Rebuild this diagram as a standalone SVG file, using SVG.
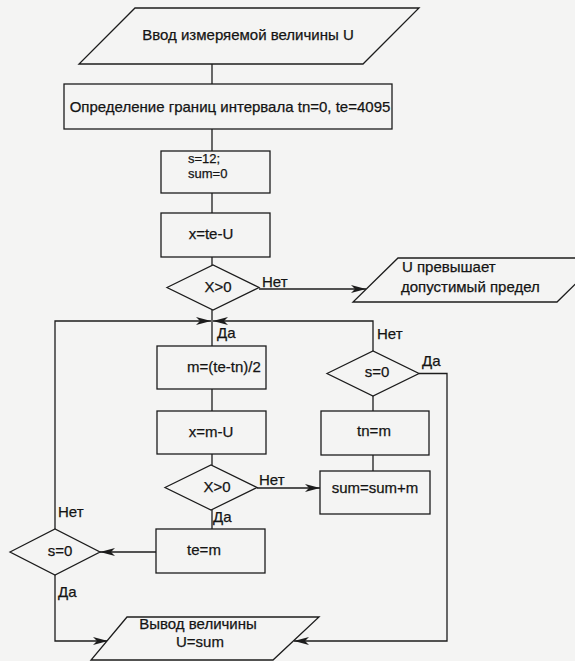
<svg xmlns="http://www.w3.org/2000/svg" width="575" height="661" viewBox="0 0 575 661">
<defs>
<style>
.s{fill:none;stroke:#1c1c1c;stroke-width:1.3}
.b{fill:#f4f4f3;stroke:#1c1c1c;stroke-width:1.3}
text{font-family:"Liberation Sans",Arial,sans-serif;font-size:15px;fill:#141414;stroke:#141414;stroke-width:0.25}
.c{text-anchor:middle}
.sm{font-size:13px}
</style>
<marker id="ah" markerUnits="userSpaceOnUse" markerWidth="15" markerHeight="8" refX="15" refY="4" orient="auto">
<path d="M0,0 L15,4 L0,8 L4,4 z" fill="#1c1c1c"/>
</marker>
</defs>
<rect x="0" y="0" width="575" height="661" fill="#f4f4f3"/>
<g id="connectors">
<line class="s" x1="212" y1="64" x2="212" y2="84"/>
<line class="s" x1="212" y1="129" x2="212" y2="151"/>
<line class="s" x1="212" y1="193" x2="212" y2="213"/>
<line class="s" x1="212" y1="257" x2="212" y2="265"/>
<line class="s" x1="212" y1="310" x2="212" y2="346"/>
<line class="s" x1="259" y1="289" x2="366" y2="289" marker-end="url(#ah)"/>
<polyline class="s" points="55,529 55,321 211,321" marker-end="url(#ah)"/>
<polyline class="s" points="373,351 373,321 213,321" marker-end="url(#ah)"/>
<line class="s" x1="212" y1="389" x2="212" y2="411"/>
<line class="s" x1="212" y1="454" x2="212" y2="465"/>
<line class="s" x1="212" y1="510" x2="212" y2="529"/>
<line class="s" x1="257" y1="488" x2="320" y2="488" marker-end="url(#ah)"/>
<line class="s" x1="373" y1="396" x2="373" y2="411"/>
<line class="s" x1="373" y1="455" x2="373" y2="471"/>
<line class="s" x1="156" y1="552" x2="100" y2="552" marker-end="url(#ah)"/>
<polyline class="s" points="419,373.5 447,373.5 447,641 294,641" marker-end="url(#ah)"/>
<polyline class="s" points="55,575 55,641 108,641" marker-end="url(#ah)"/>
</g>
<g id="input">
<polygon class="b" points="135,8 419,8 363,64 79,64"/>
<text class="c" x="248" y="40">Ввод измеряемой величины U</text>
</g>
<g id="bounds">
<rect class="b" x="64" y="84" width="328" height="45"/>
<text class="c" x="230" y="112">Определение границ интервала tn=0, te=4095</text>
</g>
<g id="init">
<rect class="b" x="161" y="151" width="109" height="42"/>
<text class="sm" x="188" y="163">s=12;</text>
<text class="sm" x="188" y="178">sum=0</text>
</g>
<g id="xte">
<rect class="b" x="161" y="213" width="109" height="44"/>
<text class="c" x="211" y="239">x=te-U</text>
</g>
<g id="check1">
<polygon class="b" points="167,287.5 213,265 259,287.5 213,310"/>
<text class="c" x="218" y="291.5">X&gt;0</text>
<text x="262" y="286.5">Нет</text>
</g>
<g id="overflow">
<polygon class="b" points="398,258 602,258 557,302 353,302"/>
<text x="402" y="272">U превышает</text>
<text x="401" y="292">допустимый предел</text>
</g>
<g id="labels-loop">
<text x="217" y="338">Да</text>
<text x="377" y="339">Нет</text>
</g>
<g id="mid">
<rect class="b" x="157" y="346" width="109" height="43"/>
<text x="187" y="372">m=(te-tn)/2</text>
</g>
<g id="check-s-right">
<polygon class="b" points="327,373.5 373,351 419,373.5 373,396"/>
<text class="c" x="377" y="377">s=0</text>
<text x="422" y="366">Да</text>
</g>
<g id="xmu">
<rect class="b" x="157" y="411" width="109" height="43"/>
<text class="c" x="211" y="437">x=m-U</text>
</g>
<g id="tnm">
<rect class="b" x="321" y="411" width="108" height="44"/>
<text class="c" x="374" y="436">tn=m</text>
</g>
<g id="check2">
<polygon class="b" points="165,487.5 211,465 257,487.5 211,510"/>
<text class="c" x="217" y="491.5">X&gt;0</text>
<text x="259" y="485">Нет</text>
<text x="213" y="522">Да</text>
</g>
<g id="sum">
<rect class="b" x="320" y="471" width="110" height="43"/>
<text class="c" x="375" y="493">sum=sum+m</text>
</g>
<g id="tem">
<rect class="b" x="156" y="529" width="109" height="44"/>
<text class="c" x="204" y="555">te=m</text>
</g>
<g id="check-s-left">
<polygon class="b" points="10,552 55,529 100,552 55,575"/>
<text class="c" x="60" y="556">s=0</text>
<text x="58" y="517">Нет</text>
<text x="58" y="597">Да</text>
</g>
<g id="output">
<polygon class="b" points="127,617 319,617 273,660 91,660"/>
<text class="c" x="198" y="629">Вывод величины</text>
<text class="c" x="200" y="647">U=sum</text>
</g>
</svg>
